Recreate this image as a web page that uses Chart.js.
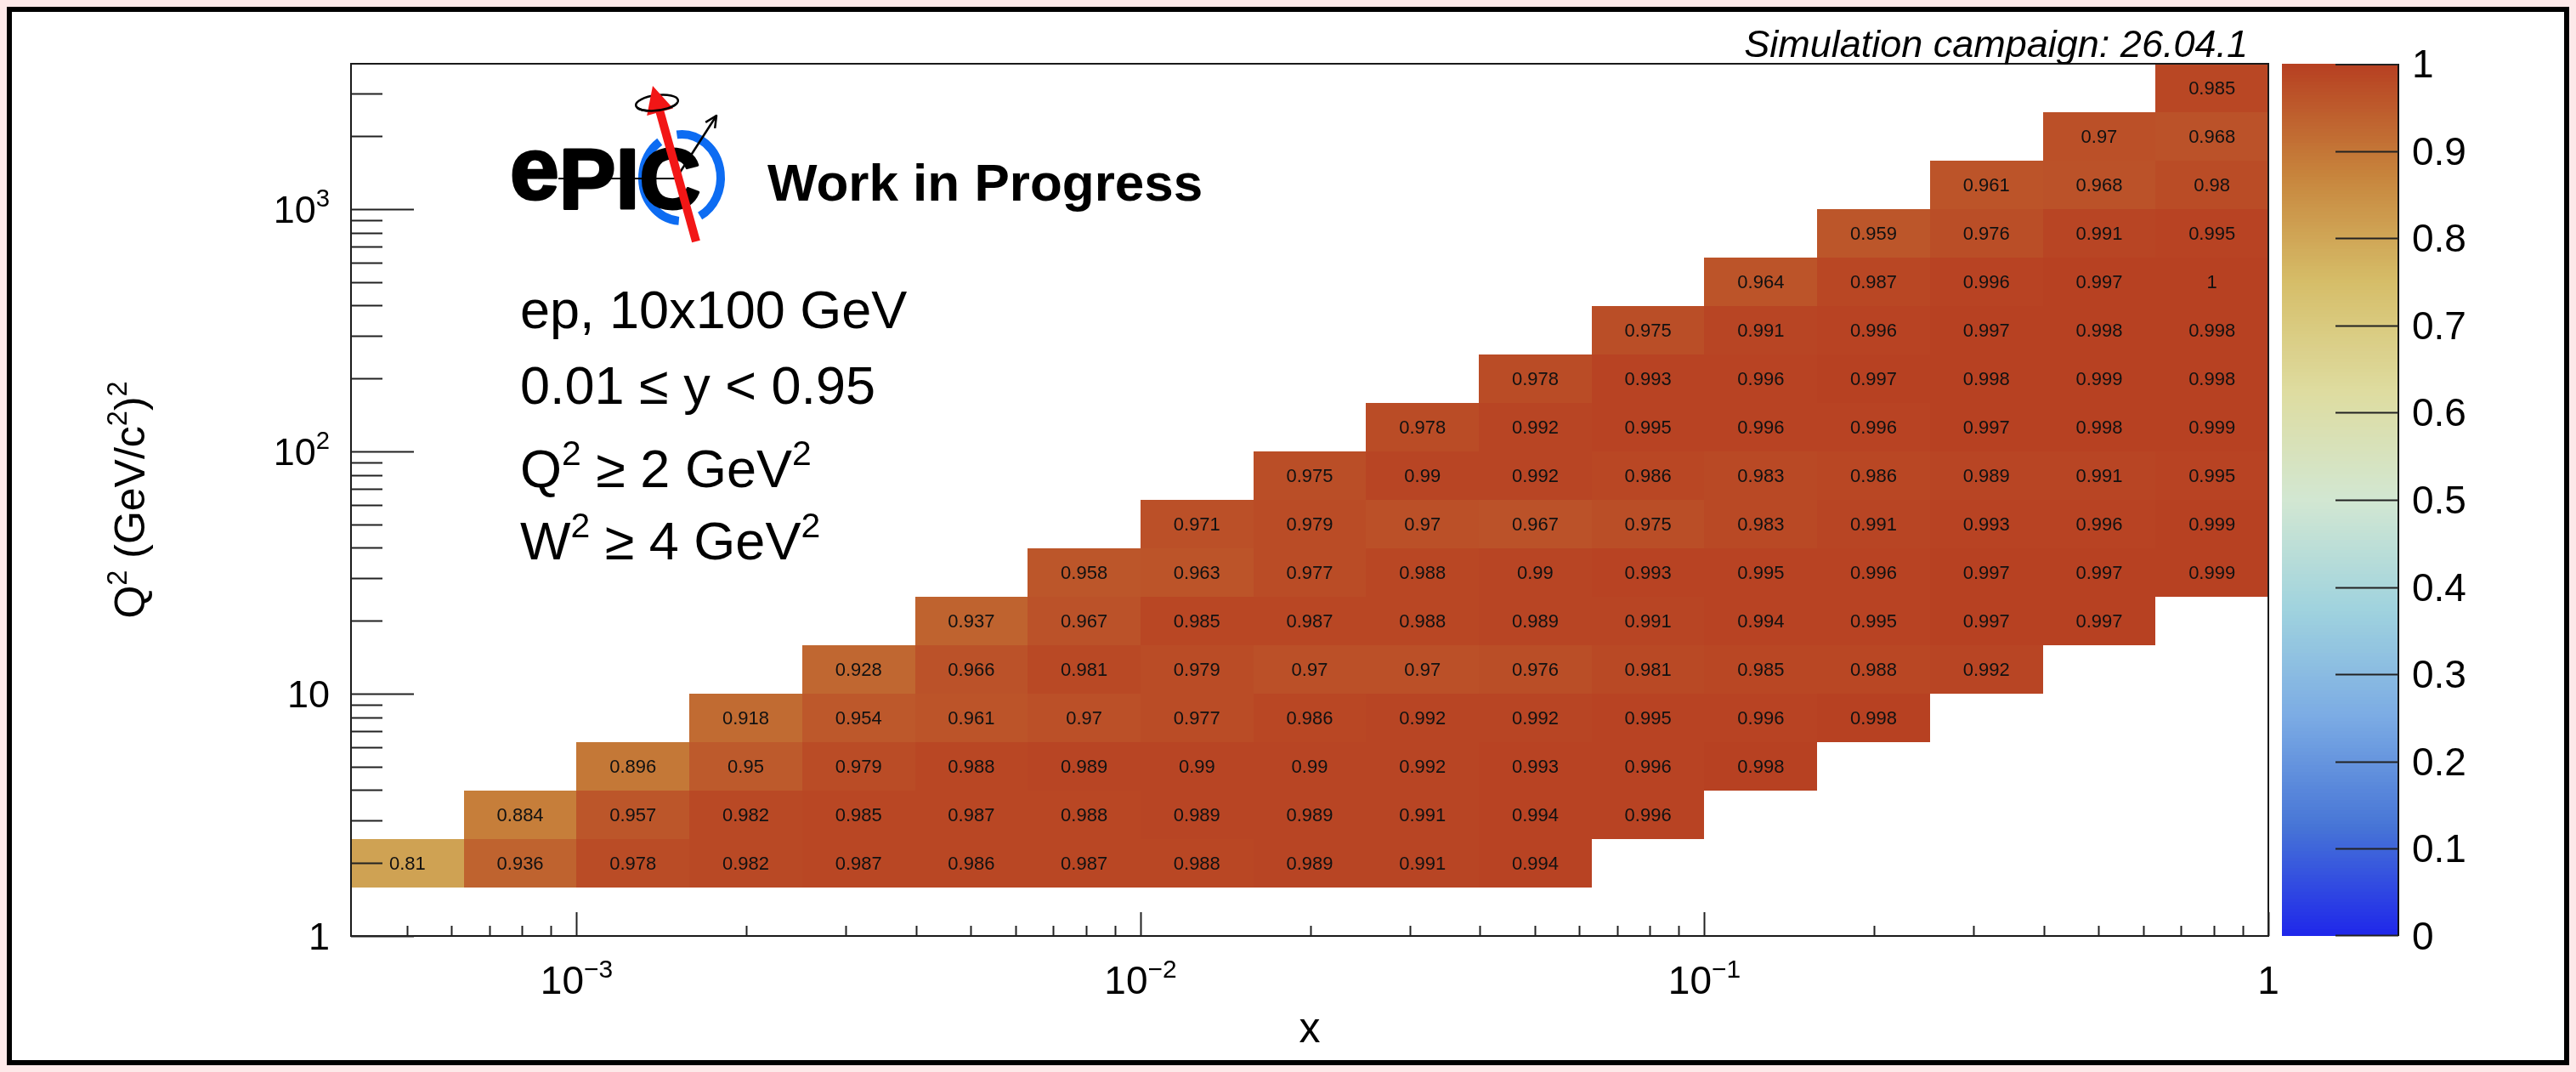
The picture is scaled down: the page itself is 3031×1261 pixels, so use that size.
<!DOCTYPE html>
<html><head><meta charset="utf-8">
<script src="https://cdn.jsdelivr.net/npm/chart.js@4/dist/chart.umd.min.js"></script>
<style>
html,body{margin:0;padding:0;background:#fde9e9;width:3031px;height:1261px;overflow:hidden}
#frame{position:absolute;left:8px;top:8px;width:3015px;height:1245px;box-sizing:border-box;border:6px solid #000;background:#fff}
#c{position:absolute;left:0;top:0}
</style></head><body>
<div id="frame"></div>
<canvas id="c" width="3031" height="1261" style="width:3031px;height:1261px"></canvas>
<script>
// ---------------- DATA ----------------
// x bin edges (Bjorken x), 5 bins per decade
const xEdges = [3.981e-4, 6.310e-4, 1.0e-3, 1.585e-3, 2.512e-3, 3.981e-3, 6.310e-3, 1.0e-2, 1.585e-2,
                2.512e-2, 3.981e-2, 6.310e-2, 0.1, 0.1585, 0.2512, 0.3981, 0.6310, 1.0];
// Q2 bin edges (GeV^2), 5 bins per decade
const q2Edges = [1.585, 2.512, 3.981, 6.310, 10, 15.85, 25.12, 39.81, 63.10, 100,
                 158.5, 251.2, 398.1, 631.0, 1000, 1585, 2512, 3981];
// first filled x bin in each Q2 row (bottom row first)
const rowFirstXBin = [0, 1, 2, 3, 4, 5, 6, 7, 8, 9, 10, 11, 12, 13, 14, 15, 16];
// efficiency values per Q2 row (bottom row first)
const q2Row01 = [0.81, 0.936, 0.978, 0.982, 0.987, 0.986, 0.987, 0.988, 0.989, 0.991, 0.994];
const q2Row02 = [0.884, 0.957, 0.982, 0.985, 0.987, 0.988, 0.989, 0.989, 0.991, 0.994, 0.996];
const q2Row03 = [0.896, 0.95, 0.979, 0.988, 0.989, 0.99, 0.99, 0.992, 0.993, 0.996, 0.998];
const q2Row04 = [0.918, 0.954, 0.961, 0.97, 0.977, 0.986, 0.992, 0.992, 0.995, 0.996, 0.998];
const q2Row05 = [0.928, 0.966, 0.981, 0.979, 0.97, 0.97, 0.976, 0.981, 0.985, 0.988, 0.992];
const q2Row06 = [0.937, 0.967, 0.985, 0.987, 0.988, 0.989, 0.991, 0.994, 0.995, 0.997, 0.997];
const q2Row07 = [0.958, 0.963, 0.977, 0.988, 0.99, 0.993, 0.995, 0.996, 0.997, 0.997, 0.999];
const q2Row08 = [0.971, 0.979, 0.97, 0.967, 0.975, 0.983, 0.991, 0.993, 0.996, 0.999];
const q2Row09 = [0.975, 0.99, 0.992, 0.986, 0.983, 0.986, 0.989, 0.991, 0.995];
const q2Row10 = [0.978, 0.992, 0.995, 0.996, 0.996, 0.997, 0.998, 0.999];
const q2Row11 = [0.978, 0.993, 0.996, 0.997, 0.998, 0.999, 0.998];
const q2Row12 = [0.975, 0.991, 0.996, 0.997, 0.998, 0.998];
const q2Row13 = [0.964, 0.987, 0.996, 0.997, 1];
const q2Row14 = [0.959, 0.976, 0.991, 0.995];
const q2Row15 = [0.961, 0.968, 0.98];
const q2Row16 = [0.97, 0.968];
const q2Row17 = [0.985];
const q2Rows = [q2Row01, q2Row02, q2Row03, q2Row04, q2Row05, q2Row06, q2Row07, q2Row08, q2Row09,
                q2Row10, q2Row11, q2Row12, q2Row13, q2Row14, q2Row15, q2Row16, q2Row17];

// axis ticks and labels
const xTickValues = [5e-4, 6e-4, 7e-4, 8e-4, 9e-4, 1e-3, 2e-3, 3e-3, 4e-3, 5e-3, 6e-3, 7e-3, 8e-3, 9e-3,
                     1e-2, 2e-2, 3e-2, 4e-2, 5e-2, 6e-2, 7e-2, 8e-2, 9e-2, 0.1, 0.2, 0.3, 0.4, 0.5, 0.6, 0.7, 0.8, 0.9, 1];
const xMajorValues = [1e-3, 1e-2, 0.1, 1];
const xTickLabels = [['10', '\u22123'], ['10', '\u22122'], ['10', '\u22121'], ['1', '']];
const yTickValues = [1, 2, 3, 4, 5, 6, 7, 8, 9, 10, 20, 30, 40, 50, 60, 70, 80, 90, 100, 200, 300, 400, 500,
                     600, 700, 800, 900, 1000, 2000, 3000];
const yMajorValues = [1, 10, 100, 1000];
const yTickLabels = [['1', ''], ['10', ''], ['10', '2'], ['10', '3']];
const zTickValues = [0, 0.1, 0.2, 0.3, 0.4, 0.5, 0.6, 0.7, 0.8, 0.9, 1];
const zTickLabels = ['0', '0.1', '0.2', '0.3', '0.4', '0.5', '0.6', '0.7', '0.8', '0.9', '1'];

// ROOT kLightTemperature palette stops
const palStops = [0, 0.125, 0.25, 0.375, 0.5, 0.625, 0.75, 0.875, 1];
const palR = [31, 71, 123, 160, 210, 222, 214, 199, 183];
const palG = [40, 117, 171, 211, 231, 220, 190, 132, 65];
const palB = [234, 214, 228, 222, 210, 160, 105, 60, 34];

// ---------------- helpers ----------------
const FONT = '"Liberation Sans", Arial, Helvetica, sans-serif';
function palColor(t) {
  t = Math.max(0, Math.min(1, t));
  let k = 0;
  while (k < palStops.length - 2 && t > palStops[k + 1]) k++;
  const f = (t - palStops[k]) / (palStops[k + 1] - palStops[k]);
  const c = (a) => Math.round(a[k] + (a[k + 1] - a[k]) * f);
  return `rgb(${c(palR)},${c(palG)},${c(palB)})`;
}
const NCOL = 255;
function colorForValue(v, zmin, zmax) {
  const idx = Math.min(NCOL - 1, Math.floor(0.99999 * (v - zmin) / (zmax - zmin) * NCOL));
  return palColor(idx / (NCOL - 1));
}
function rich(ctx, segs, x, y, size, align, pre) {
  pre = pre || '';
  const ss = size * 0.65, rise = size * 0.42;
  const f = (s) => `${pre} ${s}px ${FONT}`.trim();
  let w = 0;
  const ws = segs.map(([t, sup]) => { ctx.font = f(sup ? ss : size); const m = ctx.measureText(t).width; w += m; return m; });
  let cx = align === 'center' ? x - w / 2 : align === 'right' ? x - w : x;
  ctx.textAlign = 'left'; ctx.textBaseline = 'alphabetic';
  segs.forEach(([t, sup], k) => { ctx.font = f(sup ? ss : size); ctx.fillText(t, cx, sup ? y - rise : y); cx += ws[k]; });
}
function arrow(ctx, x0, y0, x1, y1, shaftW, headL, headW, color) {
  const dx = x1 - x0, dy = y1 - y0, L = Math.hypot(dx, dy), ux = dx / L, uy = dy / L, nx = -uy, ny = ux;
  const bx = x1 - ux * headL, by = y1 - uy * headL;
  ctx.strokeStyle = color; ctx.lineWidth = shaftW; ctx.lineCap = 'butt';
  ctx.beginPath(); ctx.moveTo(x0, y0); ctx.lineTo(bx + ux * 2, by + uy * 2); ctx.stroke();
  ctx.fillStyle = color; ctx.beginPath(); ctx.moveTo(x1, y1);
  ctx.lineTo(bx + nx * headW / 2, by + ny * headW / 2); ctx.lineTo(bx - nx * headW / 2, by - ny * headW / 2);
  ctx.closePath(); ctx.fill();
}
function drawLogo(ctx) {
  const cx = 802, cy = 209, d = Math.PI / 180;
  ctx.save();
  ctx.strokeStyle = '#0d6cf2'; ctx.lineWidth = 10; ctx.lineCap = 'butt';
  ctx.beginPath(); ctx.ellipse(cx, cy, 46, 51, 0, -97 * d, 62 * d); ctx.stroke();
  ctx.beginPath(); ctx.ellipse(cx, cy, 46, 51, 0, 94 * d, 236 * d); ctx.stroke();
  ctx.fillStyle = '#000'; ctx.strokeStyle = '#000'; ctx.lineWidth = 3; ctx.lineJoin = 'round';
  ctx.font = `bold 104px ${FONT}`; ctx.textAlign = 'left'; ctx.textBaseline = 'alphabetic';
  ctx.fillText('e', 600, 234); ctx.strokeText('e', 600, 234);
  const we = ctx.measureText('e').width;
  ctx.font = `bold 100px ${FONT}`;
  ctx.fillText('PIC', 600 + we, 245); ctx.strokeText('PIC', 600 + we, 245);
  ctx.strokeStyle = '#000'; ctx.lineWidth = 2;
  ctx.beginPath(); ctx.moveTo(657, 210); ctx.lineTo(797, 210); ctx.stroke();
  // black outgoing arrow
  ctx.lineWidth = 2.5; ctx.beginPath(); ctx.moveTo(796, 209); ctx.lineTo(843, 136); ctx.stroke();
  const a = Math.atan2(136 - 209, 843 - 796);
  ctx.beginPath();
  ctx.moveTo(843 - 15 * Math.cos(a - 0.45), 136 - 15 * Math.sin(a - 0.45)); ctx.lineTo(843, 136);
  ctx.lineTo(843 - 15 * Math.cos(a + 0.45), 136 - 15 * Math.sin(a + 0.45)); ctx.stroke();
  // spin ellipse (back)
  ctx.lineWidth = 2.5;
  ctx.beginPath(); ctx.ellipse(773, 121, 25, 9, -0.12, 0, Math.PI * 2); ctx.stroke();
  // red beam arrow
  arrow(ctx, 819, 284, 768, 101, 10, 32, 32, '#f21616');
  // spin ellipse (front part)
  ctx.strokeStyle = '#000'; ctx.lineWidth = 2.5;
  ctx.beginPath(); ctx.ellipse(773, 121, 25, 9, -0.12, 0.3, Math.PI - 0.3); ctx.stroke();
  ctx.restore();
}

// cells as dataset points (bin centres), edges come from xEdges / q2Edges
const cells = [];
q2Rows.forEach((row, j) => {
  row.forEach((v, k) => {
    const i = rowFirstXBin[j] + k;
    cells.push({ x: Math.sqrt(xEdges[i] * xEdges[i + 1]), y: Math.sqrt(q2Edges[j] * q2Edges[j + 1]), v: v, i: i, j: j });
  });
});

const rootPlugin = {
  id: 'rootStyle',
  beforeDatasetsDraw(chart) {
    const { ctx, scales: { x, y, z } } = chart;
    ctx.save();
    const pts = chart.data.datasets[0].data;
    pts.forEach(p => {
      const x0 = Math.round(x.getPixelForValue(xEdges[p.i])), x1 = Math.round(x.getPixelForValue(xEdges[p.i + 1]));
      const yb = Math.round(y.getPixelForValue(q2Edges[p.j])), yt = Math.round(y.getPixelForValue(q2Edges[p.j + 1]));
      ctx.fillStyle = colorForValue(p.v, z.min, z.max);
      ctx.fillRect(x0, yt, x1 - x0, yb - yt);
    });
    ctx.fillStyle = '#111'; ctx.font = `22px ${FONT}`; ctx.textAlign = 'center'; ctx.textBaseline = 'middle';
    pts.forEach(p => {
      const px = (x.getPixelForValue(xEdges[p.i]) + x.getPixelForValue(xEdges[p.i + 1])) / 2;
      const py = (y.getPixelForValue(q2Edges[p.j]) + y.getPixelForValue(q2Edges[p.j + 1])) / 2;
      ctx.fillText(String(p.v), px, py + 1);
    });
    ctx.restore();
  },
  afterDraw(chart) {
    const { ctx, chartArea: a, scales: { x, y, z } } = chart;
    ctx.save();
    // frame
    ctx.strokeStyle = '#1a1a1a'; ctx.lineWidth = 2;
    ctx.strokeRect(a.left, a.top, a.right - a.left, a.bottom - a.top);
    // x ticks (inward)
    ctx.strokeStyle = '#222'; ctx.lineWidth = 2;
    x.ticks.forEach(t => {
      const px = Math.round(x.getPixelForValue(t.value)) + 0.5;
      const L = xMajorValues.includes(t.value) ? 28 : 12;
      ctx.beginPath(); ctx.moveTo(px, a.bottom); ctx.lineTo(px, a.bottom - L); ctx.stroke();
    });
    y.ticks.forEach(t => {
      const py = Math.round(y.getPixelForValue(t.value)) + 0.5;
      const L = yMajorValues.includes(t.value) ? 74 : 37;
      ctx.beginPath(); ctx.moveTo(a.left, py); ctx.lineTo(a.left + L, py); ctx.stroke();
    });
    // tick labels
    ctx.fillStyle = '#000';
    xMajorValues.forEach((v, k) => {
      const [b, s] = xTickLabels[k];
      rich(ctx, s ? [[b, false], [s, true]] : [[b, false]], x.getPixelForValue(v), 1169, 46, 'center');
    });
    yMajorValues.forEach((v, k) => {
      const [b, s] = yTickLabels[k];
      rich(ctx, s ? [[b, false], [s, true]] : [[b, false]], 388, y.getPixelForValue(v) + 16, 45, 'right');
    });
    // axis titles
    rich(ctx, [['x', false]], (a.left + a.right) / 2, 1226, 50, 'center');
    ctx.save();
    ctx.translate(170, (a.top + a.bottom) / 2); ctx.rotate(-Math.PI / 2);
    rich(ctx, [['Q', false], ['2', true], [' (GeV/c', false], ['2', true], [')', false], ['2', true]], 0, 0, 50, 'center');
    ctx.restore();
    // colour bar
    const cbL = 2685, cbR = 2822;
    for (let i = 0; i < NCOL; i++) {
      const v0 = z.min + (z.max - z.min) * i / NCOL, v1 = z.min + (z.max - z.min) * (i + 1) / NCOL;
      const y0 = z.getPixelForValue(v0), y1 = z.getPixelForValue(v1);
      ctx.fillStyle = palColor(i / (NCOL - 1));
      ctx.fillRect(cbL, Math.floor(y1), cbR - cbL, Math.ceil(y0) - Math.floor(y1));
    }
    ctx.strokeStyle = '#111'; ctx.lineWidth = 2;
    ctx.beginPath(); ctx.moveTo(cbR, z.getPixelForValue(z.max)); ctx.lineTo(cbR, z.getPixelForValue(z.min)); ctx.stroke();
    ctx.strokeStyle = '#222';
    zTickValues.forEach((v, k) => {
      let py = Math.round(z.getPixelForValue(v)) + 0.5;
      if (k === 0) py -= 1; if (k === zTickValues.length - 1) py += 0.5;
      ctx.beginPath(); ctx.moveTo(cbR, py); ctx.lineTo(cbR - 74, py); ctx.stroke();
      ctx.fillStyle = '#000';
      rich(ctx, [[zTickLabels[k], false]], 2838, z.getPixelForValue(v) + 16, 46, 'left');
    });
    // annotations
    ctx.fillStyle = '#000';
    rich(ctx, [['Simulation campaign: 26.04.1', false]], 2645, 67, 45, 'right', 'italic');
    drawLogo(ctx);
    ctx.fillStyle = '#000';
    rich(ctx, [['Work in Progress', false]], 903, 236, 62, 'left', 'bold');
    rich(ctx, [['ep, 10x100 GeV', false]], 612, 386, 63, 'left');
    rich(ctx, [['0.01 \u2264 y < 0.95', false]], 612, 475, 63, 'left');
    rich(ctx, [['Q', false], ['2', true], [' \u2265 2 GeV', false], ['2', true]], 612, 573, 63, 'left');
    rich(ctx, [['W', false], ['2', true], [' \u2265 4 GeV', false], ['2', true]], 612, 658, 63, 'left');
    ctx.restore();
  }
};

new Chart(document.getElementById('c').getContext('2d'), {
  type: 'scatter',
  data: { datasets: [{ data: cells, pointRadius: 0, pointHoverRadius: 0, backgroundColor: 'rgba(0,0,0,0)' }] },
  options: {
    responsive: false, animation: false, devicePixelRatio: 1,
    layout: { padding: { left: 413, top: 75, right: 362, bottom: 160 } },
    plugins: { legend: { display: false }, tooltip: { enabled: false }, title: { display: false } },
    events: [],
    scales: {
      x: { type: 'logarithmic', min: xEdges[0], max: xEdges[xEdges.length - 1], bounds: 'data', display: false,
           afterBuildTicks: (s) => { s.ticks = xTickValues.map(v => ({ value: v })); } },
      y: { type: 'logarithmic', min: 1, max: q2Edges[q2Edges.length - 1], bounds: 'data', display: false,
           afterBuildTicks: (s) => { s.ticks = yTickValues.map(v => ({ value: v })); } },
      z: { type: 'linear', min: 0, max: 1, display: false, position: 'right',
           afterBuildTicks: (s) => { s.ticks = zTickValues.map(v => ({ value: v })); } }
    }
  },
  plugins: [rootPlugin]
});
</script></body></html>
